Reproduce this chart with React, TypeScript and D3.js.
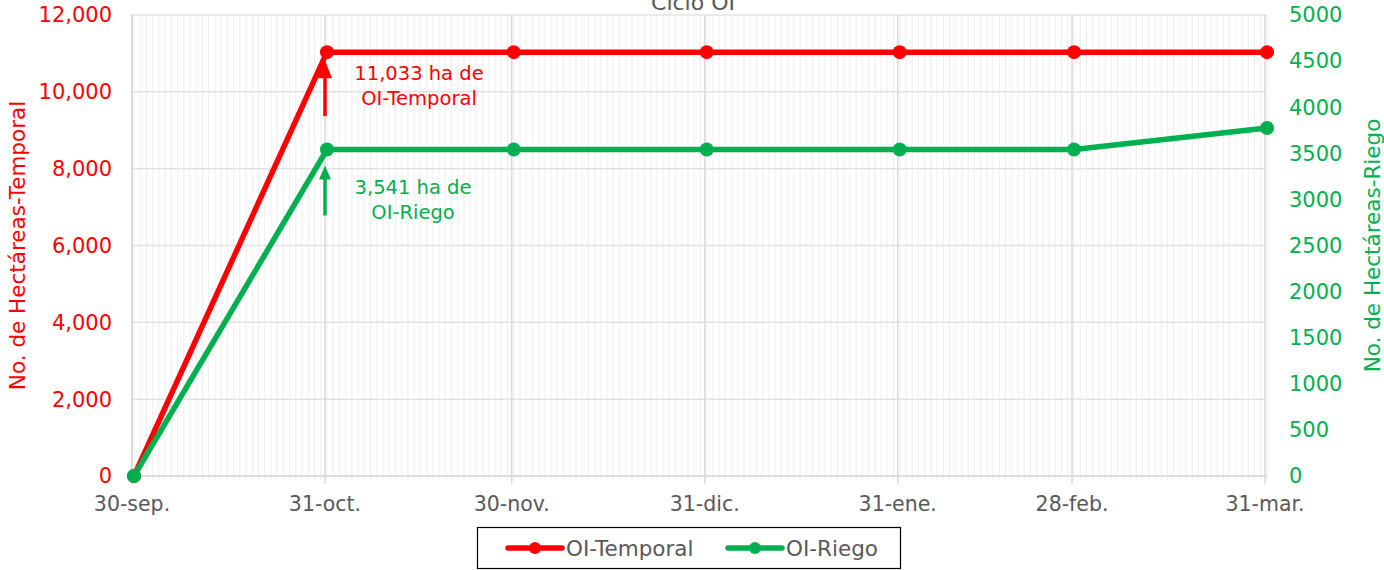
import React from "react";
import * as d3 from "d3";

const fechas = ["2022-09-30", "2022-10-31", "2022-11-30", "2022-12-31", "2023-01-31", "2023-02-28", "2023-03-31"];
const etiquetas = ["30-sep.", "31-oct.", "30-nov.", "31-dic.", "31-ene.", "28-feb.", "31-mar."];
const temporal = [0, 11033, 11033, 11033, 11033, 11033, 11033];
const riego = [0, 3541, 3541, 3541, 3541, 3541, 3775];
const ticksIzq = [0, 2000, 4000, 6000, 8000, 10000, 12000];
const ticksDer = [0, 500, 1000, 1500, 2000, 2500, 3000, 3500, 4000, 4500, 5000];

const ROJO = "#FF0000";
const VERDE = "#00B050";
const GRIS = "#595959";
const FONT = "'DejaVu Sans', sans-serif";

export default function App() {
  const width = 1384;
  const height = 570;
  const margin = { top: 15, right: 117, bottom: 94, left: 134 };

  const parse = d3.timeParse("%Y-%m-%d");
  const dates = fechas.map((f) => parse(f) as Date);

  const x = d3
    .scaleTime()
    .domain([dates[0], dates[dates.length - 1]])
    .range([margin.left, width - margin.right]);
  const yL = d3.scaleLinear().domain([0, 12000]).range([height - margin.bottom, margin.top]);
  const yR = d3.scaleLinear().domain([0, 5000]).range([height - margin.bottom, margin.top]);

  const dias = d3.timeDay.range(dates[0], d3.timeDay.offset(dates[dates.length - 1], 1));

  const lineL = d3
    .line<number>()
    .x((_, i) => x(dates[i]))
    .y((d) => yL(d));
  const lineR = d3
    .line<number>()
    .x((_, i) => x(dates[i]))
    .y((d) => yR(d));

  const x0 = margin.left - 2;
  const x1 = width - margin.right;
  const yb = height - margin.bottom;
  const fmt = d3.format(",");

  const xOct = x(dates[1]) - 2;
  const pT = yL(temporal[1]);
  const pR = yR(riego[1]);

  return (
    <svg
      width={width}
      height={height}
      style={{ position: "absolute", left: 0, top: 0, background: "#fff" }}
      fontFamily={FONT}
    >
      {/* minor daily gridlines */}
      {dias.map((d, i) => (
        <line key={"m" + i} x1={x(d)} x2={x(d)} y1={margin.top} y2={yb} stroke="#efefef" strokeWidth={1} />
      ))}
      {/* minor ticks under axis */}
      {dias.map((d, i) => (
        <line key={"mt" + i} x1={x(d)} x2={x(d)} y1={yb} y2={yb + 4} stroke="#eeeeee" strokeWidth={1} />
      ))}
      {/* horizontal gridlines */}
      {ticksIzq.map((t) => (
        <line key={"h" + t} x1={x0} x2={x1} y1={yL(t)} y2={yL(t)} stroke="#e3e3e3" strokeWidth={1.5} />
      ))}
      {/* major gridlines */}
      {dates.map((d, i) => (
        <line key={"M" + i} x1={x(d) - 2} x2={x(d) - 2} y1={margin.top} y2={yb + 8} stroke="#d9d9d9" strokeWidth={1.5} />
      ))}
      <line x1={x0} x2={x0} y1={margin.top} y2={yb} stroke="#d9d9d9" strokeWidth={1.5} />
      <line x1={x0} x2={x1} y1={yb} y2={yb} stroke="#d9d9d9" strokeWidth={1.5} />

      {/* title */}
      <text x={693} y={10} textAnchor="middle" fontSize={22} fill={GRIS}>
        Ciclo OI
      </text>

      {/* left axis */}
      {ticksIzq.map((t) => (
        <text key={"l" + t} x={112} y={yL(t)} dy="0.35em" textAnchor="end" fontSize={21} fill={ROJO}>
          {fmt(t)}
        </text>
      ))}
      <text
        transform={`translate(25,${(margin.top + yb) / 2}) rotate(-90)`}
        textAnchor="middle"
        fontSize={21.5}
        fill={ROJO}
      >
        No. de Hectáreas-Temporal
      </text>

      {/* right axis */}
      {ticksDer.map((t) => (
        <text key={"r" + t} x={1289} y={yR(t)} dy="0.35em" textAnchor="start" fontSize={21} fill={VERDE}>
          {t}
        </text>
      ))}
      <text
        transform={`translate(1380,${(margin.top + yb) / 2}) rotate(-90)`}
        textAnchor="middle"
        fontSize={21.5}
        fill={VERDE}
      >
        No. de Hectáreas-Riego
      </text>

      {/* x labels */}
      {dates.map((d, i) => (
        <text key={"x" + i} x={x(d) - 2} y={yb + 35} textAnchor="middle" fontSize={20.5} fill={GRIS}>
          {etiquetas[i]}
        </text>
      ))}

      {/* lines */}
      <path d={lineL(temporal) || ""} fill="none" stroke={ROJO} strokeWidth={5.5} strokeLinejoin="round" />
      <path d={lineR(riego) || ""} fill="none" stroke={VERDE} strokeWidth={5.5} strokeLinejoin="round" />
      {temporal.map((v, i) => (
        <circle key={"pt" + i} cx={x(dates[i])} cy={yL(v)} r={7} fill={ROJO} />
      ))}
      {riego.map((v, i) => (
        <circle key={"pr" + i} cx={x(dates[i])} cy={yR(v)} r={7} fill={VERDE} />
      ))}

      {/* annotations */}
      <line x1={xOct} x2={xOct} y1={pT + 64} y2={pT + 22} stroke={ROJO} strokeWidth={3.5} />
      <path d={`M${xOct},${pT + 8} L${xOct - 7},${pT + 26} L${xOct + 7},${pT + 26} Z`} fill={ROJO} />
      <text x={419} y={pT + 28} textAnchor="middle" fontSize={19.5} fill={ROJO}>
        {fmt(temporal[1])} ha de
      </text>
      <text x={419} y={pT + 53} textAnchor="middle" fontSize={19.5} fill={ROJO}>
        OI-Temporal
      </text>

      <line x1={xOct} x2={xOct} y1={pR + 66} y2={pR + 26} stroke={VERDE} strokeWidth={3.5} />
      <path d={`M${xOct},${pR + 16} L${xOct - 6},${pR + 30} L${xOct + 6},${pR + 30} Z`} fill={VERDE} />
      <text x={413} y={pR + 44} textAnchor="middle" fontSize={19.5} fill={VERDE}>
        {fmt(riego[1])} ha de
      </text>
      <text x={413} y={pR + 69} textAnchor="middle" fontSize={19.5} fill={VERDE}>
        OI-Riego
      </text>

      {/* legend */}
      <rect x={477.5} y={527.5} width={423} height={41} fill="#fff" stroke="#000" strokeWidth={1.2} />
      <line x1={508} x2={562} y1={548} y2={548} stroke={ROJO} strokeWidth={5.5} strokeLinecap="round" />
      <circle cx={535} cy={548} r={6} fill={ROJO} />
      <text x={566} y={548} dy="0.35em" fontSize={21.5} fill={GRIS}>
        OI-Temporal
      </text>
      <line x1={728} x2={782} y1={548} y2={548} stroke={VERDE} strokeWidth={5.5} strokeLinecap="round" />
      <circle cx={755} cy={548} r={6} fill={VERDE} />
      <text x={786} y={548} dy="0.35em" fontSize={21.5} fill={GRIS}>
        OI-Riego
      </text>
    </svg>
  );
}
